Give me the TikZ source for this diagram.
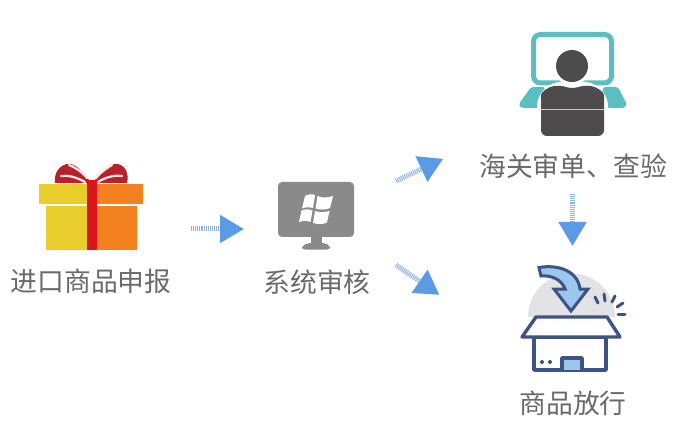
\documentclass[tikz,border=0pt]{standalone}
\usepackage{fontspec}
\usetikzlibrary{arrows.meta}
\newfontfamily\cjkf{Noto Sans CJK SC}
\definecolor{labelgray}{HTML}{6A6A6A}
\definecolor{flowblue}{HTML}{5B9BE6}
\definecolor{flowtail}{HTML}{8FB6E0}
\definecolor{giftyellow}{HTML}{E8CD2C}
\definecolor{giftorange}{HTML}{F48120}
\definecolor{giftred}{HTML}{D9161C}
\definecolor{bowred}{HTML}{B9202A}
\definecolor{screengray}{HTML}{8A8A8A}
\definecolor{tealc}{HTML}{5BBFC1}
\definecolor{persongray}{HTML}{4D4B4C}
\definecolor{boxblue}{HTML}{3D5482}
\definecolor{boxlight}{HTML}{9CC6EE}
\definecolor{haloc}{HTML}{E3E3E5}
\tikzset{
  lbl/.style={font=\cjkf\fontsize{26.8}{30}\selectfont, text=labelgray, inner sep=0pt},
  flow/.style={draw=flowtail, line width=5pt, dash pattern=on 1pt off 0.9pt,
    -{Triangle[length=24pt,width=27pt,sep=2pt,color=flowblue,fill=flowblue]}},
  boxline/.style={draw=boxblue, line width=3.4pt, line join=round},
  spark/.style={draw=boxblue, line width=3pt, line cap=round},
  bowpart/.style={fill=bowred},
  bowstripe/.style={draw=white!90!red, line width=2.2pt, line cap=round},
}
\begin{document}
\begin{tikzpicture}[x=1pt,y=-1pt]
\useasboundingbox[fill=white] (0,0) rectangle (678,441);

% labels
\node[lbl] (lblgoods) at (91,281) {进口商品申报};
\node[lbl] (lblsys) at (317,282) {系统审核};
\node[lbl] (lblcustoms) at (573,166) {海关审单、查验};
\node[lbl] (lblrelease) at (573,403) {商品放行};

% gift
\fill[bowpart] (91,183) .. controls (84,172) and (74,162) .. (67,164) .. controls (58,166) and (54,174) .. (55,183) -- cycle;
\fill[bowpart] (93,183) .. controls (100,172) and (112,162) .. (118,164) .. controls (126,166) and (129,174) .. (127,183) -- cycle;
\draw[bowstripe] (87,178) .. controls (80,170) and (74,167) .. (69,165);
\draw[bowstripe] (85,182) .. controls (76,177) and (68,175) .. (61,176);
\draw[bowstripe] (96,178) .. controls (103,170) and (109,167) .. (112,165);
\draw[bowstripe] (98,182) .. controls (106,177) and (114,175) .. (122,176);
\fill[giftyellow] (39,184) rectangle (88,204);
\fill[giftorange] (96,184) rectangle (143,204);
\fill[giftyellow] (46,206) rectangle (88,250);
\fill[giftorange] (96,206) rectangle (137,250);
\fill[giftred] (87,180) rectangle (97,250);

% monitor with window logo
\fill[screengray, rounded corners=4pt] (278,182) rectangle (354,237);
\fill[screengray] (311,236) rectangle (322,245);
\fill[screengray, rounded corners=3pt] (302,249.5) -- (302,246) -- (308,243) -- (325,243) -- (330,246) -- (330,249.5) -- cycle;
\fill[white] (305,196) .. controls (308,194) and (312,194) .. (315,195) -- (313,208) .. controls (309,207) and (306,207) .. (302,208.5) -- cycle;
\fill[white] (317.5,196) .. controls (322,198) and (327,198) .. (333,196) -- (330,208) .. controls (326,210) and (320,210) .. (315.5,208.5) -- cycle;
\fill[white] (301.5,210.5) .. controls (305,209) and (309,209) .. (312.5,210.5) -- (310.5,222) .. controls (307,220.5) and (303,220.5) .. (299,222) -- cycle;
\fill[white] (315,211) .. controls (320,212.5) and (325,212.5) .. (329.5,211) -- (327,222.5) .. controls (322,225) and (317,224) .. (313,223) -- cycle;

% person at screen
\draw[tealc, line width=5pt, rounded corners=7pt] (533.5,34.5) rectangle (611.5,83);
\fill[tealc, rounded corners=2pt] (531,87) -- (545,87) -- (545,108) -- (524,108) .. controls (519,107) and (519,104) .. (521,101) -- cycle;
\fill[tealc, rounded corners=2pt] (603,87) -- (618,87) -- (625,101) .. controls (627,104) and (626,107) .. (622,108) -- (600,108) -- cycle;
\fill[white, rounded corners=9pt] (537,140) -- (537,97) -- (551,82) -- (594,82) -- (608,97) -- (608,140) -- cycle;
\fill[white] (572,66) circle (19);
\fill[persongray] (572,66) circle (16);
\fill[persongray, rounded corners=6pt] (541,136) -- (541,101) .. controls (541,92) and (548,87) .. (560,85) -- (572,89) -- (585,85) .. controls (597,87) and (604,92) .. (604,101) -- (604,136) -- cycle;
\draw[white!70!persongray, line width=0.7pt] (541,109) -- (604,109);

% open box
\fill[haloc] (528,317) arc[start angle=180, end angle=360, radius=43.5] -- cycle;
\draw[boxline, fill=white] (534,337) rectangle (606,370);
\draw[boxline, fill=white] (536,317) -- (607,317) -- (620,337) -- (522,337) -- cycle;
\draw[boxline, fill=boxlight] (562,370) -- (562,358) -- (582,358) -- (582,370);
\fill[boxblue] (542,362) circle (2) (550,362) circle (2);
\draw[boxline, fill=boxlight, line width=3pt, line join=miter]
  (539,267.5) .. controls (560,264) and (578,272) .. (580,289) -- (588,289) -- (571,311) -- (554,289)
  -- (565,289) .. controls (562,280) and (552,275) .. (541,276) -- cycle;
\draw[spark] (595,297) -- (598,303);
\draw[spark] (604,294) -- (605,301);
\draw[spark] (615,296) -- (612,302);
\draw[spark] (623,303) -- (617,307);
\draw[spark] (625,314) -- (618,314);

% flow arrows
\coordinate (goodsout) at (191,229);
\coordinate (sysin) at (246,229);
\coordinate (sysoutup) at (396,181);
\coordinate (customsin) at (445,158);
\coordinate (sysoutdown) at (396,265);
\coordinate (releasein) at (441,296);
\coordinate (customsout) at (572.5,194);
\coordinate (releasetop) at (572.5,248);
\draw[flow] (goodsout) -- (sysin);
\draw[flow] (sysoutup) -- (customsin);
\draw[flow] (sysoutdown) -- (releasein);
\draw[flow] (customsout) -- (releasetop);
\end{tikzpicture}
\end{document}
